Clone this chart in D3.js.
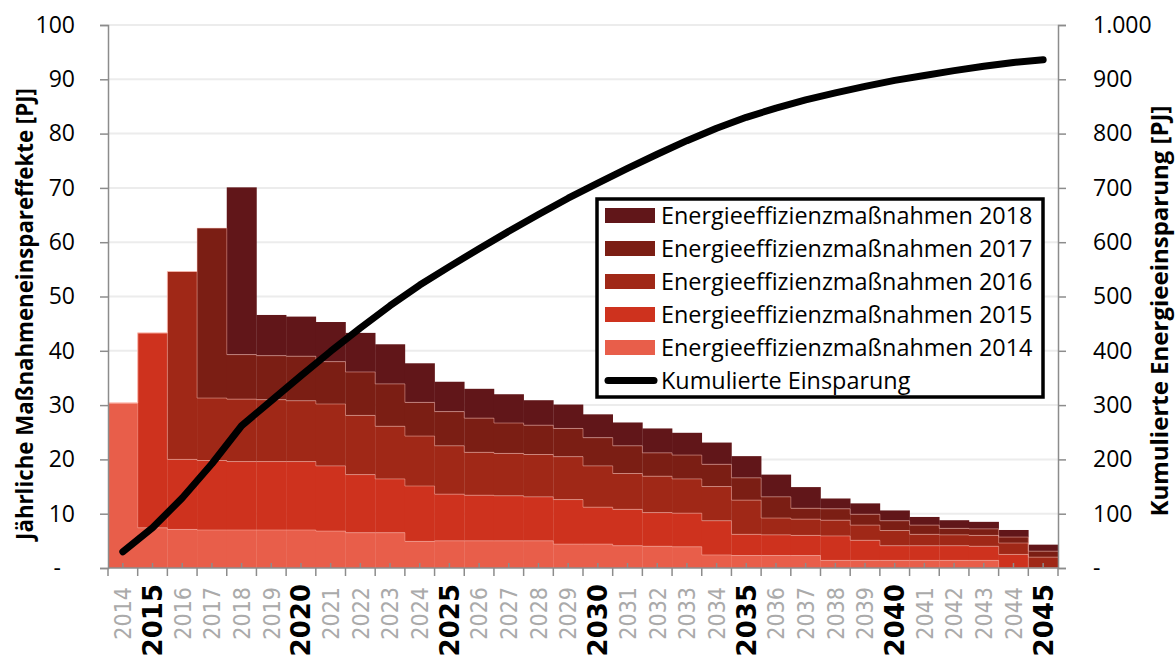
<!DOCTYPE html>
<html>
<head>
<meta charset="utf-8">
<script src="https://cdn.jsdelivr.net/npm/d3@7"></script>
<style>
  body { margin: 0; background: #fff; }
  svg text { font-family: "Open Sans", sans-serif; }
</style>
</head>
<body>
<svg id="chart" width="1175" height="659"></svg>
<script>
const years = [2014, 2015, 2016, 2017, 2018, 2019, 2020, 2021, 2022, 2023, 2024, 2025, 2026, 2027, 2028, 2029,
  2030, 2031, 2032, 2033, 2034, 2035, 2036, 2037, 2038, 2039, 2040, 2041, 2042, 2043, 2044, 2045]

// Jährliche Einsparung je Maßnahmenjahrgang [PJ]
const m2014 = [30.4, 7.4, 7.1, 7.0, 7.0, 7.0, 7.0, 6.8, 6.5, 6.5, 4.9, 5.0, 5.0, 5.0, 5.0, 4.4,
  4.4, 4.1, 4.0, 3.9, 2.4, 2.3, 2.3, 2.3, 1.4, 1.4, 1.4, 1.4, 1.4, 1.4, 0, 0]
const m2015 = [0, 35.9, 12.9, 12.8, 12.6, 12.6, 12.6, 12.0, 10.7, 9.9, 10.2, 8.6, 8.4, 8.3, 8.1, 8.2,
  6.8, 6.7, 6.2, 6.2, 6.3, 3.9, 3.8, 3.7, 4.5, 3.7, 2.7, 2.7, 2.7, 2.6, 2.5, 0]
const m2016 = [0, 0, 34.6, 11.5, 11.5, 11.4, 11.2, 11.4, 10.9, 9.7, 9.2, 8.9, 7.9, 7.8, 7.8, 7.9,
  7.6, 6.6, 6.7, 6.3, 6.3, 6.3, 3.1, 3.0, 2.9, 2.8, 2.8, 2.1, 2.0, 2.0, 2.1, 2.0]
const m2017 = [0, 0, 0, 31.3, 8.2, 8.1, 8.2, 7.8, 8.0, 7.8, 6.2, 6.3, 6.3, 5.6, 5.4, 5.2,
  5.2, 5.1, 4.3, 4.4, 4.1, 4.1, 3.9, 2.0, 2.1, 2.0, 1.8, 1.7, 1.2, 1.2, 1.1, 1.1]
const m2018 = [0, 0, 0, 0, 30.8, 7.5, 7.3, 7.3, 7.2, 7.3, 7.2, 5.5, 5.4, 5.3, 4.6, 4.4,
  4.3, 4.3, 4.5, 4.1, 4.0, 4.0, 4.1, 3.9, 1.9, 2.0, 1.9, 1.5, 1.5, 1.3, 1.3, 1.2]

// Kumulierte Einsparung [PJ]
const kumuliert = [30, 74, 129, 192, 262, 308, 354, 399, 442, 483, 521, 555, 588, 620, 651, 681,
  709, 736, 762, 787, 810, 830, 847, 862, 875, 887, 898, 907, 916, 924, 931, 936]

const seriesKeys = ["m2014", "m2015", "m2016", "m2017", "m2018"]
const seriesLabels = ["Energieeffizienzmaßnahmen 2014", "Energieeffizienzmaßnahmen 2015",
  "Energieeffizienzmaßnahmen 2016", "Energieeffizienzmaßnahmen 2017", "Energieeffizienzmaßnahmen 2018"]
const seriesColors = ["#e85e4a", "#ce321e", "#a02817", "#7b1e14", "#611619"]
const leftTicks = [0, 10, 20, 30, 40, 50, 60, 70, 80, 90, 100]
const rightTicks = [0, 100, 200, 300, 400, 500, 600, 700, 800, 900, 1000]

const rows = years.map((y, i) => ({
  year: y, m2014: m2014[i], m2015: m2015[i], m2016: m2016[i], m2017: m2017[i], m2018: m2018[i]
}))

const svg = d3.select("#chart")
const pLeft = 108, pRight = 1058, pTop = 25, pBottom = 568

const x = d3.scaleBand().domain(years).range([pLeft, pRight]).padding(0)
const y = d3.scaleLinear().domain([0, 100]).range([pBottom, pTop])
const y2 = d3.scaleLinear().domain([0, 1000]).range([pBottom, pTop])
const bw = x.bandwidth()

// gridlines
svg.append("g").selectAll("line")
  .data(leftTicks.filter(d => d > 0))
  .join("line")
  .attr("x1", pLeft).attr("x2", pRight)
  .attr("y1", d => y(d)).attr("y2", d => y(d))
  .attr("stroke", "#ececec").attr("stroke-width", 2)

// stacked bars
const stacked = d3.stack().keys(seriesKeys)(rows)
const color = d3.scaleOrdinal().domain(seriesKeys).range(seriesColors)

svg.append("g").selectAll("g")
  .data(stacked)
  .join("g")
  .attr("fill", d => color(d.key))
  .selectAll("rect")
  .data(d => d)
  .join("rect")
  .attr("x", d => x(d.data.year))
  .attr("y", d => y(d[1]))
  .attr("width", bw + 0.3)
  .attr("height", d => y(d[0]) - y(d[1]))

// faint step edges between layers
const stepLine = d3.line().curve(d3.curveStepAfter)
stacked.slice(0, 4).forEach(layer => {
  const pts = layer.map(d => [x(d.data.year), y(d[1])])
  const last = layer[layer.length - 1]
  pts.push([x(last.data.year) + bw, y(last[1])])
  svg.append("path")
    .attr("d", stepLine(pts))
    .attr("fill", "none")
    .attr("stroke", "rgba(255,190,180,0.45)")
    .attr("stroke-width", 1)
})

// axes
const axisColor = "#8c8c8c"
const gL = svg.append("g").attr("transform", `translate(${pLeft},0)`)
  .call(d3.axisLeft(y).tickValues(leftTicks).tickSize(8).tickPadding(25)
    .tickFormat(d => d === 0 ? "-" : d))
const gR = svg.append("g").attr("transform", `translate(${pRight},0)`)
  .call(d3.axisRight(y2).tickValues(rightTicks).tickSize(8).tickPadding(27)
    .tickFormat(d => d === 0 ? "-" : d3.format(",")(d).replace(",", ".")))
;[gL, gR].forEach(g => {
  g.select(".domain").attr("stroke", axisColor).attr("stroke-width", 1.5)
  g.selectAll(".tick line").attr("stroke", axisColor).attr("stroke-width", 1.5)
  g.selectAll(".tick text").attr("font-size", 23).attr("fill", "#000")
    .attr("font-family", "Open Sans")
})
gL.selectAll(".tick text").filter(d => d === 0).attr("dx", -14)

// x axis
const gX = svg.append("g")
gX.append("line").attr("x1", pLeft).attr("x2", pRight).attr("y1", pBottom).attr("y2", pBottom)
  .attr("stroke", axisColor).attr("stroke-width", 1.5)
gX.selectAll("line.major")
  .data(years.concat([null]))
  .join("line").attr("class", "major")
  .attr("x1", d => d === null ? pRight : x(d)).attr("x2", d => d === null ? pRight : x(d))
  .attr("y1", pBottom).attr("y2", pBottom + 8)
  .attr("stroke", axisColor).attr("stroke-width", 1.5)
gX.selectAll("line.minor")
  .data(years)
  .join("line").attr("class", "minor")
  .attr("x1", d => x(d) + bw / 2).attr("x2", d => x(d) + bw / 2)
  .attr("y1", pBottom).attr("y2", pBottom - 5)
  .attr("stroke", axisColor).attr("stroke-width", 1.5)
gX.selectAll("text")
  .data(years)
  .join("text")
  .attr("transform", d => `translate(${x(d) + bw / 2},${d % 5 === 0 ? 584 : 587}) rotate(-90)`)
  .attr("text-anchor", "end")
  .attr("dy", "0.36em")
  .style("font-family", d => d % 5 === 0 ? "'DejaVu Sans', sans-serif" : "'DejaVu Sans Condensed', 'DejaVu Sans', sans-serif")
  .attr("font-size", d => d % 5 === 0 ? 26 : 23)
  .attr("font-weight", d => d % 5 === 0 ? "bold" : "normal")
  .attr("fill", d => d % 5 === 0 ? "#000" : "#aaaaaa")
  .text(d => d)

// cumulative line
const line = d3.line()
  .x((d, i) => x(years[i]) + bw / 2)
  .y(d => y2(d))
svg.append("path")
  .datum(kumuliert)
  .attr("d", line)
  .attr("fill", "none")
  .attr("stroke", "#000")
  .attr("stroke-width", 7)
  .attr("stroke-linecap", "round")
  .attr("stroke-linejoin", "round")

// axis titles, font size fitted to the span they cover in the original
const fitTitle = (txt, cx, cy, span) => {
  const t = svg.append("text")
    .attr("transform", `translate(${cx},${cy}) rotate(-90)`)
    .attr("text-anchor", "middle").attr("dy", "0.35em")
    .attr("font-size", 21).attr("font-weight", "bold")
    .text(txt)
  const len = t.node().getComputedTextLength()
  t.attr("font-size", Math.min(24, 21 * span / len))
}
fitTitle("Jährliche Maßnahmeneinspareffekte [PJ]", 25, 314, 452)
fitTitle("Kumulierte Energieeinsparung [PJ]", 1160, 311, 432)

// legend
const lg = svg.append("g")
lg.append("rect").attr("x", 597).attr("y", 199).attr("width", 446).attr("height", 198)
  .attr("fill", "#fff").attr("stroke", "#000").attr("stroke-width", 3.5)
const legendItems = seriesKeys.map((k, i) => ({ key: k, label: seriesLabels[i] })).reverse()
legendItems.forEach((it, i) => {
  const cy = 215.5 + i * 33
  lg.append("rect").attr("x", 605).attr("y", cy - 7.5).attr("width", 50).attr("height", 15)
    .attr("fill", color(it.key))
  lg.append("text").attr("x", 661).attr("y", cy).attr("dy", "0.36em")
    .attr("font-size", 23.4).text(it.label)
})
lg.append("line").attr("x1", 608).attr("x2", 654).attr("y1", 380.5).attr("y2", 380.5)
  .attr("stroke", "#000").attr("stroke-width", 7).attr("stroke-linecap", "round")
lg.append("text").attr("x", 661).attr("y", 380.5).attr("dy", "0.36em")
  .attr("font-size", 23.4).text("Kumulierte Einsparung")
</script>
</body>
</html>
